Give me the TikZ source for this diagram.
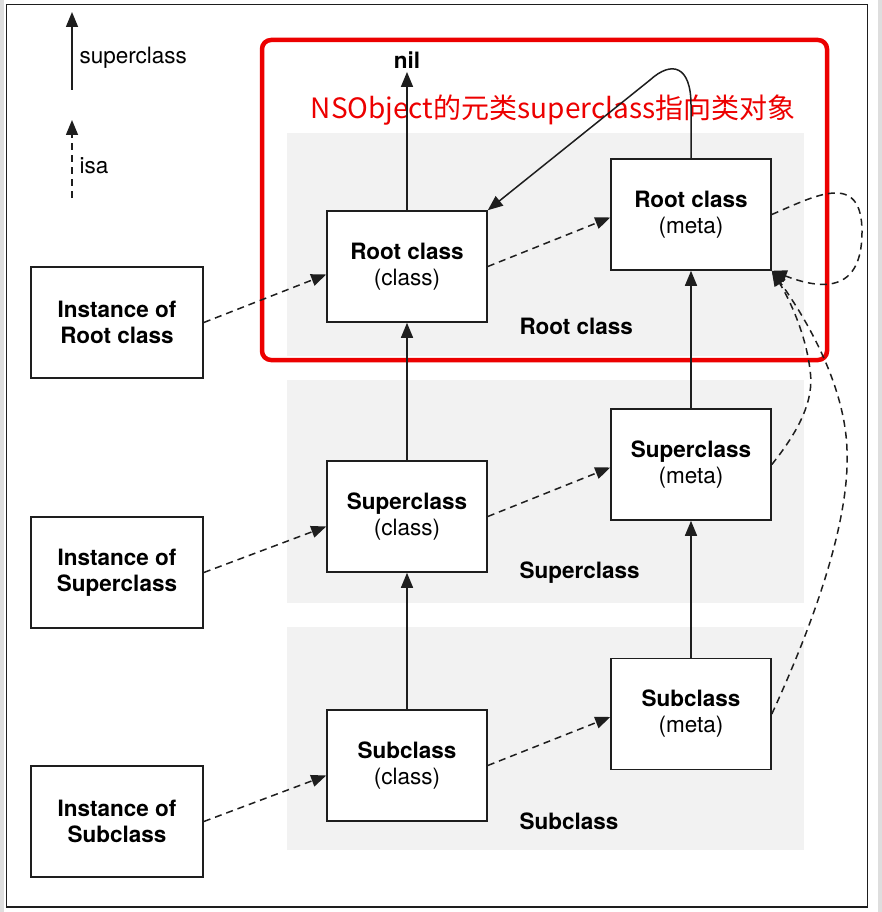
\documentclass[tikz,border=0pt]{standalone}
\usepackage{fontspec}
\setmainfont{TeX Gyre Heros}
\newfontfamily\cjk{Noto Sans CJK SC}
\usetikzlibrary{arrows.meta}
\definecolor{band}{RGB}{242,242,242}
\definecolor{redmark}{RGB}{236,0,0}
\definecolor{ink}{RGB}{30,30,30}
\begin{document}
\begin{tikzpicture}[x=1pt, y=-1pt,
  box/.style={draw=ink, fill=white, line width=1.6pt, minimum width=160pt, minimum height=111pt, align=center, inner sep=0pt, font=\fontsize{22.5}{26}\selectfont},
  inst/.style={box, minimum width=172pt},
  tag/.style={anchor=west, font=\fontsize{22.5}{26}\selectfont},
  super/.style={draw=ink, line width=1.5pt, -{Triangle[length=15pt,width=12pt]}},
  isa/.style={super, dash pattern=on 7pt off 5pt}]
\useasboundingbox (0,0) rectangle (882,912);
\fill[black!13] (0,0) rectangle (4,912);
\fill[black!13] (878,0) rectangle (882,912);
\draw[line width=1.4pt, ink] (6.5,4.5) rectangle (867.5,907);

\fill[band] (287,133) rectangle (804,356);
\fill[band] (287,380) rectangle (804,603);
\fill[band] (287,627) rectangle (804,850);
\node (lr) at (516,326) [tag] {\textbf{Root class}};
\node (ls) at (516,573) [tag] {\textbf{Superclass}};
\node (lb) at (516,821) [tag] {\textbf{Subclass}};

\draw[redmark, line width=4.5pt, rounded corners=9pt] (262,40) rectangle (827,360);
\node (note) at (553,110) [text=redmark, font=\cjk\fontsize{28}{30}\selectfont] {NSObject的元类superclass指向类对象};

\coordinate (s0) at (72,90);
\coordinate (s1) at (72,12);
\coordinate (i0) at (72,198);
\coordinate (i1) at (72,120);
\node (ls0) at (76,58) [tag] {superclass};
\node (li0) at (76,166) [tag] {isa};

\node (nil) at (407,60) [font=\fontsize{22.5}{26}\selectfont] {\textbf{nil}};

\node (ri) at (117,322.5) [inst] {\textbf{Instance of}\\\textbf{Root class}};
\node (si) at (117,572.5) [inst] {\textbf{Instance of}\\\textbf{Superclass}};
\node (bi) at (117,821.5) [inst] {\textbf{Instance of}\\\textbf{Subclass}};

\node (rc) at (407,266.5) [box] {\textbf{Root class}\\(class)};
\node (sc) at (407,516.5) [box] {\textbf{Superclass}\\(class)};
\node (bc) at (407,765.5) [box] {\textbf{Subclass}\\(class)};

\node (rm) at (691,214.5) [box] {\textbf{Root class}\\(meta)};
\node (sm) at (691,464.5) [box] {\textbf{Superclass}\\(meta)};
\node (bm) at (691,714) [box] {\textbf{Subclass}\\(meta)};

\draw[super] (s0) to (s1);
\draw[isa] (i0) to (i1);

\draw[super] (bc) to (sc);
\draw[super] (sc) to (rc);
\draw[super] (rc) to (nil);
\draw[super] (bm) to (sm);
\draw[super] (sm) to (rm);
\draw[super] (rm.north) -- (691,105) .. controls (691,66) and (672,60) .. (650,80) -- (rc.north east);

\draw[isa] (ri.east) to ([yshift=-8pt]rc.west);
\draw[isa] (si.east) to ([yshift=-10pt]sc.west);
\draw[isa] (bi.east) to ([yshift=-10pt]bc.west);
\draw[isa] (rc.east) to ([yshift=-3pt]rm.west);
\draw[isa] (sc.east) to ([yshift=-3pt]sm.west);
\draw[isa] (bc.east) to ([yshift=-3pt]bm.west);

\draw[isa] (rm.east) .. controls (815,196) and (862,170) .. (862,232) .. controls (862,300) and (812,286) .. (rm.south east);
\draw[isa] (sm.east) .. controls (798,432) and (815,400) .. (810,370) .. controls (806,335) and (790,300) .. (rm.south east);
\draw[isa] (bm.east) .. controls (815,620) and (850,520) .. (847,450) .. controls (845,380) and (800,310) .. (rm.south east);
\end{tikzpicture}
\end{document}
